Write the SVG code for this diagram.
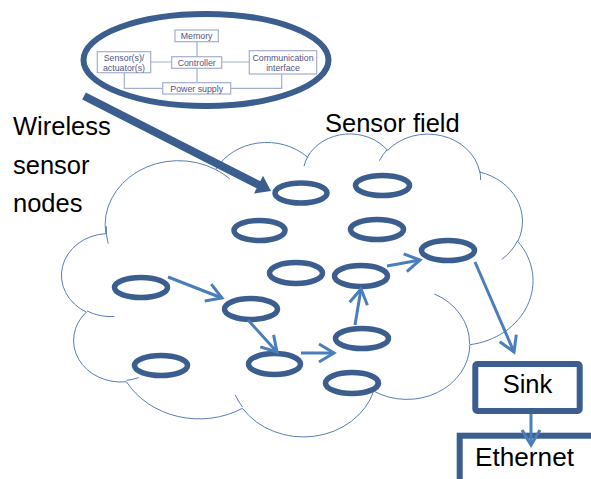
<svg xmlns="http://www.w3.org/2000/svg" width="591" height="479" viewBox="0 0 591 479">
<style>
.cloud{fill:#fff;stroke:#5a7db4;stroke-width:1}
.inner{fill:none;stroke:#5a7db4;stroke-width:1}
.node{fill:none;stroke:#3b5e8e;stroke-width:5.5}
.conn{fill:none;stroke:#4a7ebb;stroke-width:3;marker-end:url(#ah)}
.lbl{font-family:"Liberation Sans",Arial,sans-serif;font-size:25.5px;fill:#000}
.box{fill:#fff;stroke:#a3aecd;stroke-width:1.2}
.bl{fill:none;stroke:#a3aecd;stroke-width:1.2}
.bt{font-family:"Liberation Sans",Arial,sans-serif;font-size:8.8px;fill:#4f5584;text-anchor:middle}
.thick{fill:none;stroke:#3b5e8e;stroke-width:6}
</style>
<defs>
<marker id="ah" markerUnits="userSpaceOnUse" markerWidth="20" markerHeight="20" viewBox="0 0 20 20" refX="17" refY="10" orient="auto" overflow="visible">
<path d="M2,1 L17,10 L2,19" fill="none" stroke="#4a7ebb" stroke-width="3"/>
</marker>
</defs>
<g id="cloud">
<path class="cloud" d="M105.8,233.7 A73.4,64.4 0 0 1 215.6,169.5 A57.9,50.9 0 0 1 307.4,157.1 A47.4,41.7 0 0 1 387.6,150.4 A52.8,46.2 0 0 1 479.8,172.1 A57.9,51.0 0 0 1 517.8,241.4 A73.6,64.6 0 0 1 469.8,344.7 A62.9,55.1 0 0 1 373.7,391.1 A73.4,64.6 0 0 1 242.5,408.3 A83.9,73.9 0 0 1 126.4,381.7 A47.4,41.5 0 0 1 86.4,312.1 A47.2,41.7 0 0 1 105.8,233.7 Z"/>
<path class="inner" d="M114.4,316.5 A47.2,41.7 0 0 1 86.9,310.9 M138.7,377.6 A47.4,41.5 0 0 1 126.6,380.3 M242.5,407.0 A73.4,64.6 0 0 1 235.2,394.8 M376.6,376.6 A73.4,64.6 0 0 1 373.7,390.0 M434.3,293.9 A62.9,55.1 0 0 1 469.6,343.9 M517.6,240.6 A57.9,51.0 0 0 1 501.8,259.4 M479.8,171.0 A52.8,46.2 0 0 1 480.6,179.9 M379.4,160.7 A52.8,46.2 0 0 1 387.4,149.4 M304.0,166.1 A47.4,41.7 0 0 1 307.9,156.4 M215.5,169.4 A73.4,64.4 0 0 1 229.7,178.8 M108.2,243.7 A73.4,64.4 0 0 1 106.3,226.1"/>
</g>
<g id="magnifier">
<ellipse class="thick" cx="206" cy="60" rx="122.5" ry="46"/>
<g id="node-structure">
<path class="bl" d="M197,41.7 V56.7 M197,68.3 V82.7 M150.7,62 H171.7 M221.7,62 H249.3 M124.3,72.7 V88.3 H162.7 M281.7,74 V88.3 H230.7"/>
<g id="memory"><rect class="box" x="175" y="30" width="43.3" height="11.7"/><text class="bt" x="196.6" y="39">Memory</text></g>
<g id="controller"><rect class="box" x="171.7" y="56.7" width="50" height="11.6"/><text class="bt" x="196.7" y="65.6">Controller</text></g>
<g id="sensors"><rect class="box" x="97.3" y="51.7" width="53.4" height="21"/><text class="bt" x="124" y="60.6">Sensor(s)/</text><text class="bt" x="124" y="70.6">actuator(s)</text></g>
<g id="comm"><rect class="box" x="249.3" y="50.7" width="67.4" height="23.3"/><text class="bt" x="283" y="60.6">Communication</text><text class="bt" x="283" y="71.1">interface</text></g>
<g id="power"><rect class="box" x="162.7" y="82.7" width="68" height="11.3"/><text class="bt" x="196.7" y="91.6">Power supply</text></g>
</g>
</g>
<g id="pointer">
<line x1="84" y1="96" x2="260" y2="185.5" stroke="#3b5e8e" stroke-width="8"/>
<polygon points="271,191 254,193.6 263,175.8" fill="#3b5e8e"/>
</g>
<g id="n1"><ellipse class="node" cx="301" cy="193" rx="26" ry="10"/></g>
<g id="n2"><ellipse class="node" cx="382.5" cy="185.5" rx="27" ry="10"/></g>
<g id="n3"><ellipse class="node" cx="259.5" cy="230.5" rx="25.5" ry="10"/></g>
<g id="n4"><ellipse class="node" cx="377" cy="229.5" rx="26.5" ry="10"/></g>
<g id="n5"><ellipse class="node" cx="296" cy="273" rx="26.5" ry="10.5"/></g>
<g id="n6"><ellipse class="node" cx="448" cy="250.5" rx="26.5" ry="10"/></g>
<g id="n7"><ellipse class="node" cx="141" cy="287.5" rx="26.5" ry="10"/></g>
<g id="n8"><ellipse class="node" cx="251" cy="309" rx="26.5" ry="10.5"/></g>
<g id="n9"><ellipse class="node" cx="361" cy="276" rx="26.5" ry="10.5"/></g>
<g id="n10"><ellipse class="node" cx="161" cy="365.5" rx="26.5" ry="10"/></g>
<g id="n11"><ellipse class="node" cx="274.5" cy="364" rx="26" ry="10.5"/></g>
<g id="n12"><ellipse class="node" cx="362" cy="338.5" rx="26.5" ry="10"/></g>
<g id="n13"><ellipse class="node" cx="352" cy="383" rx="26.5" ry="10.5"/></g>
<g id="sink"><rect x="475.3" y="364" width="104.4" height="47" rx="2" fill="#fff" stroke="#3b5e8e" stroke-width="6"/><text class="lbl" x="527.5" y="393" text-anchor="middle">Sink</text></g>
<g id="ethernet"><rect x="459.7" y="435.7" width="200" height="100" fill="#fff" stroke="#3b5e8e" stroke-width="6"/><text class="lbl" x="475" y="465.5" textLength="99" lengthAdjust="spacingAndGlyphs">Ethernet</text></g>
<g id="connectors">
<line class="conn" x1="168" y1="277" x2="222" y2="298"/>
<line class="conn" x1="248" y1="320" x2="277" y2="352"/>
<line class="conn" x1="301" y1="353" x2="334" y2="353"/>
<line class="conn" x1="355" y1="325" x2="361" y2="289"/>
<line class="conn" x1="387" y1="266" x2="420" y2="260"/>
<line class="conn" x1="475" y1="262" x2="514" y2="352"/>
<line class="conn" x1="531" y1="414" x2="531" y2="445"/>
</g>
<g id="labels">
<text class="lbl" x="13" y="134.5">Wireless</text>
<text class="lbl" x="13" y="173.5">sensor</text>
<text class="lbl" x="13" y="212">nodes</text>
<text class="lbl" x="325" y="131.5">Sensor field</text>
</g>
</svg>
